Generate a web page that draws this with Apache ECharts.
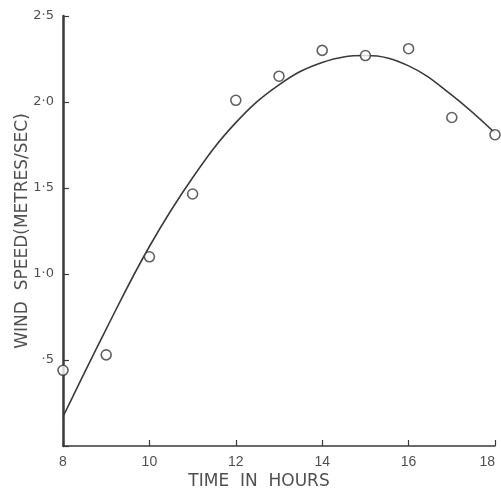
<!DOCTYPE html>
<html>
<head>
<meta charset="utf-8">
<script src="https://cdn.jsdelivr.net/npm/echarts@6/dist/echarts.min.js"></script>
<style>
  html, body { margin: 0; padding: 0; background: #fff; }
  #chart { width: 501px; height: 489px; }
</style>
</head>
<body>
<div id="chart"></div>
<script>
// observed wind speed (open circles)
const obsHours = [8, 9, 10, 11, 12, 13, 14, 15, 16, 17, 18]
const obsSpeed = [0.44, 0.53, 1.10, 1.465, 2.01, 2.15, 2.30, 2.27, 2.31, 1.91, 1.81]

// fitted curve
const fitHours = [8, 9, 10, 11, 12, 13, 14, 15, 16, 17, 18]
const fitSpeed = [0.17, 0.68, 1.16, 1.56, 1.88, 2.10, 2.23, 2.27, 2.21, 2.04, 1.82]

const yTicks = { 0.5: '·5', 1: '1·0', 1.5: '1·5', 2: '2·0', 2.5: '2·5' }
const xTicks = [8, 10, 12, 14, 16, 18]

const ink = '#3a3a3a'
const textInk = '#505050'
const chart = echarts.init(document.getElementById('chart'))

chart.setOption({
  animation: false,
  grid: {
    left: 63,
    right: 6,
    top: 16,
    bottom: 43,
    outerBoundsMode: 'none'
  },
  xAxis: {
    type: 'value',
    min: 8,
    max: 18,
    interval: 2,
    name: 'TIME  IN  HOURS',
    nameLocation: 'middle',
    nameGap: 27,
    nameMoveOverlap: false,
    nameTextStyle: {
      color: textInk,
      fontFamily: 'DejaVu Sans',
      fontSize: 17,
      padding: [0, 40, 0, 0]
    },
    axisLine: { lineStyle: { color: ink, width: 1.5 } },
    axisTick: { inside: true, length: 6, lineStyle: { color: ink, width: 1.2 } },
    axisLabel: {
      color: textInk,
      fontFamily: 'Liberation Sans',
      fontSize: 14,
      margin: 9,
      alignMaxLabel: 'right',
      formatter: v => xTicks.includes(v) ? String(v) : ''
    },
    splitLine: { show: false }
  },
  yAxis: {
    type: 'value',
    min: 0,
    max: 2.5,
    interval: 0.5,
    name: 'WIND  SPEED(METRES/SEC)',
    nameLocation: 'middle',
    nameGap: 32,
    nameMoveOverlap: false,
    nameTextStyle: {
      color: textInk,
      fontFamily: 'DejaVu Sans',
      fontSize: 17
    },
    axisLine: { show: true, lineStyle: { color: ink, width: 2.5 } },
    axisTick: { show: true, inside: true, length: 6, lineStyle: { color: ink, width: 1.2 } },
    axisLabel: {
      color: textInk,
      fontFamily: 'DejaVu Sans',
      fontSize: 13,
      margin: 9,
      formatter: v => yTicks[v] || ''
    },
    splitLine: { show: false }
  },
  series: [
    {
      type: 'line',
      data: fitHours.map((h, i) => [h, fitSpeed[i]]),
      smooth: 0.4,
      symbol: 'none',
      lineStyle: { color: ink, width: 1.6 },
      z: 2
    },
    {
      type: 'scatter',
      data: obsHours.map((h, i) => [h, obsSpeed[i]]),
      symbol: 'circle',
      symbolSize: 10,
      itemStyle: { color: '#fff', borderColor: ink, borderWidth: 1.6 },
      z: 3
    }
  ]
})
</script>
</body>
</html>
